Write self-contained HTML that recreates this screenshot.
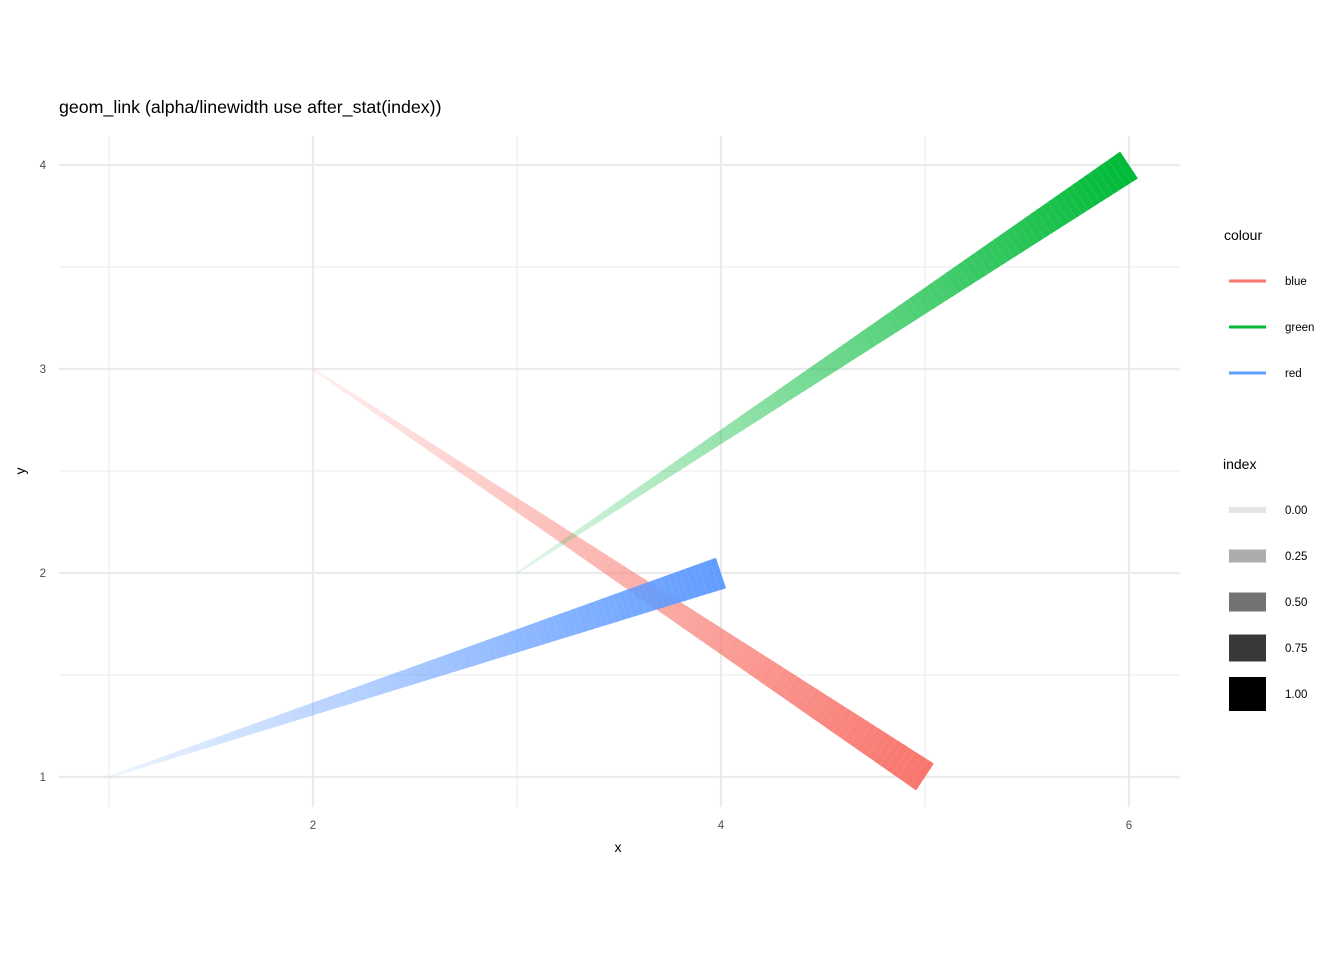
<!DOCTYPE html>
<html><head><meta charset="utf-8">
<style>
body{margin:0;background:#fff;font-family:"Liberation Sans",sans-serif;}
svg text{font-family:"Liberation Sans",sans-serif;}
</style></head>
<body>
<svg id="chart" width="1344" height="960" viewBox="0 0 1344 960">
<rect width="1344" height="960" fill="#fff"/>
<text x="59" y="113" font-size="17.8" fill="#000">geom_link (alpha/linewidth use after_stat(index))</text>
<g id="grid"></g>
<g id="links"></g>
<g id="axes"></g>
<text x="618" y="852" font-size="14" text-anchor="middle">x</text>
<text x="25" y="471" font-size="14" text-anchor="middle" transform="rotate(-90 25 471)">y</text>
<g id="legend"></g>
</svg>
<script>
const seriesNames=["blue","green","red"];
const seriesColors=["#F8766D","#00BA38","#619CFF"];
const x0s=[2,3,1], y0s=[3,2,1], x1s=[5,6,4], y1s=[1,4,2];
const xTicks=[2,4,6], yTicks=[1,2,3,4];
const indexBreaks=[0,0.25,0.5,0.75,1];
const NS="http://www.w3.org/2000/svg";
const X=v=>313+(v-2)*204, Y=v=>777-(v-1)*204;
const L=59,R=1180,T=136,B=807;
function mk(tag,attrs,parent){const e=document.createElementNS(NS,tag);for(const k in attrs)e.setAttribute(k,attrs[k]);parent.appendChild(e);return e;}
const grid=document.getElementById('grid');
for(let v=1;v<=6;v+=1){const l=mk('line',{x1:X(v),x2:X(v),y1:T,y2:B,stroke:'#ebebeb','stroke-width':xTicks.includes(v)?2.2:1.1},grid);

}
for(let v=1;v<=4;v+=0.5){const l=mk('line',{x1:L,x2:R,y1:Y(v),y2:Y(v),stroke:'#ebebeb','stroke-width':Number.isInteger(v)?2.2:1.1},grid);

}
const axes=document.getElementById('axes');
xTicks.forEach(v=>{const t=mk('text',{x:X(v),y:829,'font-size':11.5,fill:'#4d4d4d','text-anchor':'middle'},axes);t.textContent=v;

});
yTicks.forEach(v=>{const t=mk('text',{x:46,y:Y(v)+4,'font-size':11.5,fill:'#4d4d4d','text-anchor':'end'},axes);t.textContent=v;

});
const W=w=>2+w*30, A=a=>0.1+a*0.9;
const links=document.getElementById('links');
const N=100;
for(let s=0;s<3;s++){
 const g=mk('g',{},links);
 
 
 const ax=X(x0s[s]),ay=Y(y0s[s]),bx=X(x1s[s]),by=Y(y1s[s]);
 const dx=bx-ax,dy=by-ay,len=Math.hypot(dx,dy),nx=-dy/len,ny=dx/len;
 for(let i=0;i<N;i++){
  const t0=i/N,t1=(i+1)/N,w=W(t1)/2;
  const p=[[ax+dx*t0+nx*w,ay+dy*t0+ny*w],[ax+dx*t1+nx*w,ay+dy*t1+ny*w],[ax+dx*t1-nx*w,ay+dy*t1-ny*w],[ax+dx*t0-nx*w,ay+dy*t0-ny*w]];
  const poly=mk('polygon',{points:p.map(q=>q.join(',')).join(' '),fill:seriesColors[s],'fill-opacity':A(t1)},g);
  
  
 }
}
const lg=document.getElementById('legend');
let tt=mk('text',{x:1224,y:240,'font-size':14},lg);tt.textContent='colour';


seriesNames.forEach((n,i)=>{const y=281+i*46;
 const l=mk('line',{x1:1229,x2:1266,y1:y,y2:y,stroke:seriesColors[i],'stroke-width':3},lg);
 
 
 const t=mk('text',{x:1285,y:y+4,'font-size':11.5},lg);t.textContent=n;
 
 });
tt=mk('text',{x:1223,y:469,'font-size':14},lg);tt.textContent='index';


const keyH=[6,13,19,27,34];
indexBreaks.forEach((b,i)=>{const y=510+i*46;
 const r=mk('rect',{x:1229,y:y-keyH[i]/2,width:37,height:keyH[i],fill:'#000','fill-opacity':A(b)},lg);
 
 
 const t=mk('text',{x:1285,y:y+4,'font-size':11.5},lg);t.textContent=b.toFixed(2);
 
 });
</script>
</body></html>
